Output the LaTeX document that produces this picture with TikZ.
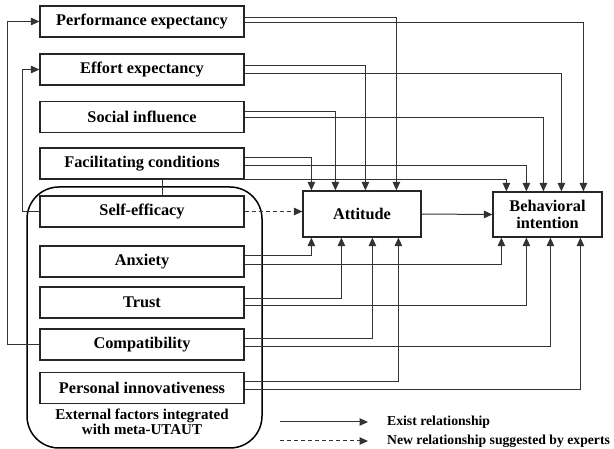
\documentclass[tikz,border=0pt]{standalone}
\usepackage{fontspec}
\setmainfont{Liberation Serif}
\usetikzlibrary{arrows.meta}

\begin{document}
\begin{tikzpicture}[x=1pt,y=-1pt,
  factor/.style={draw=black!85,line width=1.2pt,minimum width=204pt,minimum height=31pt,inner sep=0pt,font=\fontsize{16.3}{18}\selectfont\bfseries},
  outcome/.style={factor,minimum height=46pt,align=center,font=\fontsize{16.3}{17}\selectfont\bfseries},
  link/.style={draw=black!80,line width=1pt,-{Triangle[length=8.5pt,width=7.5pt]}},
  newlink/.style={link,dash pattern=on 4pt off 3pt},
  legendtext/.style={anchor=west,inner sep=0pt,font=\fontsize{13.7}{15}\selectfont\bfseries}]
\useasboundingbox (0,0) rectangle (614,449);

% External factors group
\draw [line width=1.5pt,rounded corners=32pt] (27,187) rectangle (262,448);

% Factors
\node [factor] (pe) at (142,21.5) {Performance expectancy};
\node [factor] (ee) at (142,69.5) {Effort expectancy};
\node [factor] (si) at (142,117) {Social influence};
\node [factor] (fc) at (142,163.5) {Facilitating conditions};
\node [factor] (se) at (142,211.5) {Self-efficacy};
\node [factor] (anx) at (142,261.5) {Anxiety};
\node [factor] (tru) at (142,302.5) {Trust};
\node [factor] (com) at (142,344.5) {Compatibility};
\node [factor] (pi) at (142,388) {Personal innovativeness};
\node [align=center,inner sep=0pt,font=\fontsize{15}{15}\selectfont\bfseries] (grp) at (142,421.5) {External factors integrated\\with meta-UTAUT};

% Outcomes
\node [outcome,minimum width=118pt] (att) at (362,214) {Attitude};
\node [outcome,minimum width=109pt,minimum height=45pt] (bi) at (547.5,214.5) {Behavioral\\intention};

% Upper factors
\draw [link] ([yshift=4pt]pe.east) -| ([xshift=94pt]att.north west);
\draw [link] ([yshift=-1pt]pe.east) -| ([xshift=91pt]bi.north west);
\draw [link] ([yshift=4pt]ee.east) -| ([xshift=63pt]att.north west);
\draw [link] ([yshift=-4pt]ee.east) -| ([xshift=69pt]bi.north west);
\draw [link] ([yshift=5pt]si.east) -| ([xshift=33pt]att.north west);
\draw [link] ([yshift=-1pt]si.east) -| ([xshift=51pt]bi.north west);
\draw [link] ([yshift=5.5pt]fc.east) -| ([xshift=9pt]att.north west);
\draw [link] ([yshift=-2.5pt]fc.east) -| ([xshift=34pt]bi.north west);
\draw [link] ([xshift=20pt]se.north) -- ([xshift=20pt]fc.south) -| ([xshift=14pt]bi.north west);

% Lower factors
\draw [link] ([yshift=6pt]anx.east) -| ([xshift=9pt]att.south west);
\draw [link] ([yshift=-3.5pt]anx.east) -| ([xshift=9pt]bi.south west);
\draw [link] ([yshift=3.5pt]tru.east) -| ([xshift=39pt]att.south west);
\draw [link] ([yshift=-3.5pt]tru.east) -| ([xshift=34pt]bi.south west);
\draw [link] ([yshift=6pt]com.east) -| ([xshift=70pt]att.south west);
\draw [link] ([yshift=-2.5pt]com.east) -| ([xshift=58pt]bi.south west);
\draw [link] ([yshift=6pt]pi.east) -| ([xshift=96pt]att.south west);
\draw [link] ([yshift=-2pt]pi.east) -| ([xshift=88pt]bi.south west);

% Feedback and new relationship
\draw [link] (se.west) -- ++(-17,0) |- (ee.west);
\draw [link] (com.west) -- ++(-32,0) |- (pe.west);
\draw [newlink] (se.east) -- (se.east -| att.west);
\draw [link] (att.east) -- (bi.west);

% Legend
\coordinate (exa) at (280,422);
\coordinate (exb) at (368,422);
\coordinate (nwa) at (280,441);
\coordinate (nwb) at (368,441);
\node [legendtext] (ext) at (387,422) {Exist relationship};
\node [legendtext] (nwt) at (387,441) {New relationship suggested by experts};
\draw [link] (exa) -- (exb);
\draw [newlink] (nwa) -- (nwb);

\end{tikzpicture}
\end{document}
